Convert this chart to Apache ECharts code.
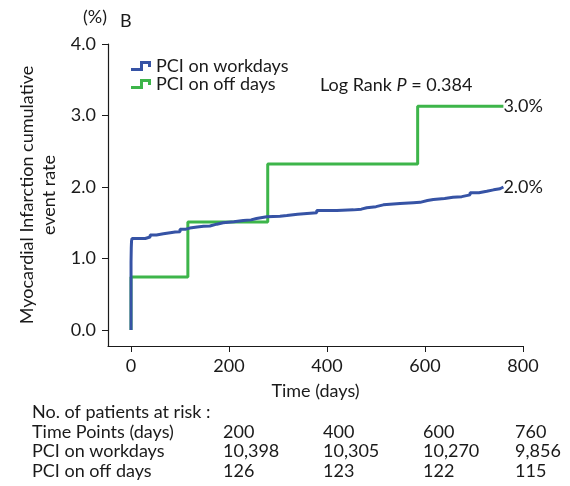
<!DOCTYPE html>
<html><head><meta charset="utf-8">
<script src="https://cdn.jsdelivr.net/npm/echarts@6/dist/echarts.min.js"></script>
<style>html,body{margin:0;padding:0;background:#fff}#c{width:570px;height:486px}</style>
</head><body><div id="c"></div>
<script>
// ---- data ----
const seriesNames = ['PCI on workdays', 'PCI on off days'];
const workdaysDays = [0, 0, 0.5, 1, 2, 29, 39, 52, 66, 80, 90, 100, 112, 120, 135, 148, 161, 175, 188, 210, 229, 245, 256, 277, 304, 318, 340, 359, 379, 420, 454, 470, 481, 500, 515, 549, 576, 590, 605, 617, 640, 657, 675, 692, 710, 726, 740, 753, 760];
const workdaysRate = [0, 0.95, 1.15, 1.24, 1.28, 1.30, 1.33, 1.345, 1.36, 1.37, 1.375, 1.41, 1.425, 1.44, 1.45, 1.455, 1.48, 1.50, 1.515, 1.53, 1.54, 1.56, 1.585, 1.59, 1.60, 1.62, 1.63, 1.64, 1.67, 1.68, 1.69, 1.71, 1.725, 1.75, 1.77, 1.78, 1.785, 1.81, 1.825, 1.84, 1.855, 1.865, 1.89, 1.92, 1.94, 1.96, 1.975, 2.0, 2.0];
const offDays = [0, 0, 116, 279, 585, 760];
const offRate = [0, 0.74, 1.51, 2.32, 3.13, 3.13];
const endLabels = ['2.0%', '3.0%'];
const xTicks = [0, 200, 400, 600, 800];
const yTicks = [0, 1, 2, 3, 4];
const riskTimePoints = ['200', '400', '600', '760'];
const riskWorkdays = ['10,398', '10,305', '10,270', '9,856'];
const riskOffDays = ['126', '123', '122', '115'];
const riskRowLabels = ['Time Points (days)', 'PCI on workdays', 'PCI on off days'];

// ---- chart ----
const FONT = 'Lato';
const FS = 18;
const TXT = '#1a1a1a';
const colors = ['#3653a5', '#3db54a'];
const chart = echarts.init(document.getElementById('c'), null, {renderer: 'canvas'});
const zip = (a, b) => a.map((v, i) => [v, b[i]]);
const stepIcon = 'path://M0,10 L0,7 L9,7 L9,0 L20,0 L20,6 L17,6 L17,3 L12,3 L12,10 Z';

const tableGraphics = [];
const colX = [223, 323, 423, 515];
const rows = [riskTimePoints, riskWorkdays, riskOffDays];
const txt = (x, y, s) => ({type: 'text', left: x, top: y, style: {text: s, font: FS + 'px ' + FONT, fill: TXT}});
tableGraphics.push(txt(32, 403, 'No. of patients at risk :'));
rows.forEach((r, ri) => {
  const y = 423 + ri * 19.5;
  tableGraphics.push(txt(32, y, riskRowLabels[ri]));
  r.forEach((v, ci) => tableGraphics.push(txt(colX[ci], y, v)));
});

chart.setOption({
  animation: false,
  textStyle: {fontFamily: FONT},
  grid: {left: 108, right: 47, top: 44, bottom: 140},
  legend: {
    data: seriesNames.map(n => ({name: n, icon: stepIcon})),
    orient: 'vertical', left: 126, top: 52, itemWidth: 20, itemHeight: 10, itemGap: 0,
    textStyle: {fontSize: FS, color: TXT, fontFamily: FONT, lineHeight: 16}
  },
  xAxis: {
    type: 'value', min: -47, max: 800,
    name: 'Time (days)', nameLocation: 'middle', nameGap: 36,
    nameTextStyle: {fontSize: FS, color: TXT, fontFamily: FONT},
    axisLine: {show: true, onZero: false, lineStyle: {color: TXT, width: 1.2}},
    axisTick: {show: true, customValues: xTicks, length: 6, lineStyle: {color: TXT}},
    axisLabel: {customValues: xTicks, fontSize: FS, color: TXT, margin: 11},
    splitLine: {show: false}
  },
  yAxis: {
    type: 'value', min: -0.224, max: 4.0,
    name: 'Myocardial Infarction cumulative\nevent rate', nameLocation: 'middle', nameGap: 47, nameRotate: 90,
    nameTextStyle: {fontSize: FS, color: TXT, lineHeight: 22, fontFamily: FONT},
    axisLine: {show: true, onZero: false, lineStyle: {color: TXT, width: 1.2}},
    axisTick: {show: true, customValues: yTicks, length: 6, lineStyle: {color: TXT}},
    axisLabel: {customValues: yTicks, fontSize: FS, color: TXT, margin: 12, formatter: v => v.toFixed(1)},
    splitLine: {show: false}
  },
  graphic: [
    txt(83, 8, '(%)'),
    txt(120, 12, 'B'),
    {type: 'text', left: 320, top: 76, style: {
      text: '{a|Log Rank }{b|P}{a| = 0.384}',
      rich: {a: {fontSize: FS, fontFamily: FONT, fill: TXT}, b: {fontSize: FS, fontFamily: FONT, fontStyle: 'italic', fill: TXT}}
    }},
    ...tableGraphics
  ],
  series: [
    {
      name: seriesNames[0], type: 'line', step: 'end', data: zip(workdaysDays, workdaysRate),
      showSymbol: false, symbol: 'none', z: 3,
      lineStyle: {color: colors[0], width: 3}, itemStyle: {color: colors[0]},
      endLabel: {show: true, formatter: endLabels[0], fontSize: FS, color: TXT, distance: 0, fontFamily: FONT}
    },
    {
      name: seriesNames[1], type: 'line', step: 'end', data: zip(offDays, offRate),
      showSymbol: false, symbol: 'none', z: 2,
      lineStyle: {color: colors[1], width: 3}, itemStyle: {color: colors[1]},
      endLabel: {show: true, formatter: endLabels[1], fontSize: FS, color: TXT, distance: 0, fontFamily: FONT}
    }
  ]
});
</script></body></html>
